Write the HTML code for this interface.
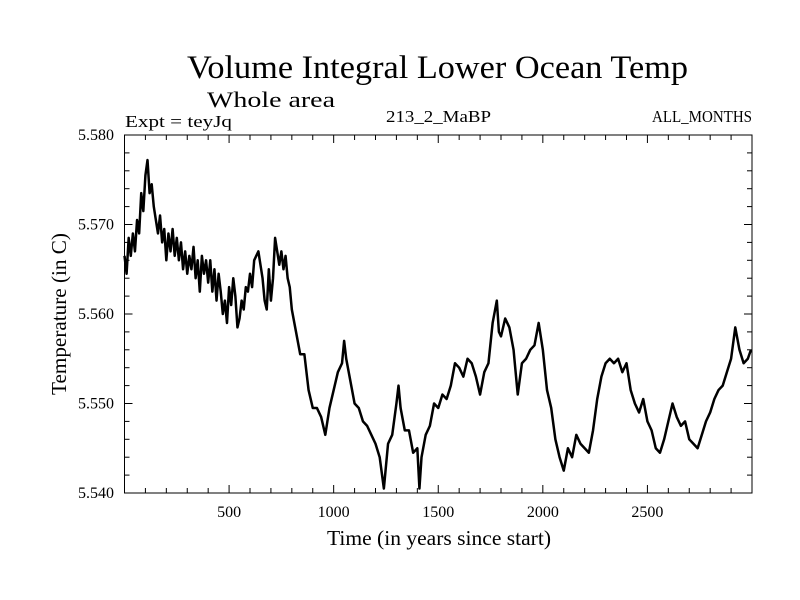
<!DOCTYPE html>
<html><head><meta charset="utf-8"><style>
html,body{margin:0;padding:0;background:#fff;}
svg{display:block;font-family:"Liberation Serif",serif;}
</style></head><body>
<svg id="chart" width="800" height="600" viewBox="0 0 800 600" xmlns="http://www.w3.org/2000/svg">
<rect x="0" y="0" width="800" height="600" fill="#fff"/>
<text x="187" y="78" font-size="33" textLength="501" lengthAdjust="spacingAndGlyphs">Volume Integral Lower Ocean Temp</text>
<text x="207" y="107" font-size="22" textLength="128" lengthAdjust="spacingAndGlyphs">Whole area</text>
<text x="125" y="127" font-size="17" textLength="107" lengthAdjust="spacingAndGlyphs">Expt = teyJq</text>
<text x="386" y="122" font-size="17" textLength="105" lengthAdjust="spacingAndGlyphs">213_2_MaBP</text>
<text x="652" y="122" font-size="17" textLength="100" lengthAdjust="spacingAndGlyphs">ALL_MONTHS</text>
<text x="327" y="545" font-size="21" textLength="224" lengthAdjust="spacingAndGlyphs">Time (in years since start)</text>
<text transform="translate(66,395) rotate(-90)" font-size="21" textLength="162" lengthAdjust="spacingAndGlyphs">Temperature (in C)</text>
<g id="ticks"></g>
<g id="labels"></g>
<path id="series" fill="none" stroke="#000" stroke-width="2.5" stroke-linejoin="round"/>
<rect x="124.5" y="135" width="627.5" height="358" fill="none" stroke="#000" stroke-width="1"/>
</svg>
<script>
const xTicks = [500, 1000, 1500, 2000, 2500];
const xTickLabels = ["500", "1000", "1500", "2000", "2500"];
const yTicks = [5.540, 5.550, 5.560, 5.570, 5.580];
const yTickLabels = ["5.540", "5.550", "5.560", "5.570", "5.580"];
const years = [
0,10,20,30,40,50,60,70,80,90,100,110,120,130,140,150,160,170,180,190,
200,210,220,230,240,250,260,270,280,290,300,310,320,330,340,350,360,370,380,390,
400,410,420,430,440,450,460,470,480,490,500,510,520,530,540,550,560,570,580,590,
600,610,620,630,640,650,660,670,680,690,700,710,720,730,740,750,760,770,780,790,
800,820,840,860,880,900,920,940,960,980,1000,1020,1040,1050,1060,1080,1100,1120,1140,1160,
1180,1200,1220,1240,1260,1280,1300,1310,1320,1340,1360,1380,1400,1410,1420,1440,1460,1480,1500,1520,
1540,1560,1580,1600,1620,1640,1660,1680,1700,1720,1740,1760,1780,1790,1800,1820,1840,1860,1880,1900,
1920,1940,1960,1980,2000,2020,2040,2060,2080,2100,2120,2140,2160,2180,2200,2220,2240,2260,2280,2300,
2320,2340,2360,2380,2400,2420,2440,2460,2480,2500,2520,2540,2560,2580,2600,2620,2640,2660,2680,2700,
2720,2740,2760,2780,2800,2820,2840,2860,2880,2900,2920,2940,2960,2980,2995];
const temps = [
5.5665,5.5645,5.5685,5.5665,5.5690,5.5670,5.5705,5.5690,5.5735,5.5715,5.5755,5.5772,5.5735,5.5745,5.5720,5.5705,5.5690,5.5710,5.5680,5.5695,
5.5660,5.5690,5.5670,5.5695,5.5665,5.5685,5.5660,5.5680,5.5650,5.5670,5.5645,5.5665,5.5650,5.5675,5.5640,5.5660,5.5625,5.5665,5.5645,5.5660,
5.5635,5.5660,5.5625,5.5650,5.5615,5.5645,5.5625,5.5600,5.5615,5.5590,5.5630,5.5610,5.5640,5.5620,5.5585,5.5595,5.5615,5.5605,5.5630,5.5625,
5.5645,5.5630,5.5660,5.5665,5.5670,5.5655,5.5640,5.5615,5.5605,5.5650,5.5615,5.5640,5.5685,5.5670,5.5655,5.5670,5.5650,5.5665,5.5640,5.5630,
5.5605,5.5580,5.5555,5.5555,5.5515,5.5495,5.5495,5.5485,5.5465,5.5495,5.5515,5.5535,5.5545,5.5570,5.5550,5.5525,5.5500,5.5495,5.5480,5.5475,
5.5465,5.5455,5.5440,5.5405,5.5455,5.5465,5.5500,5.5520,5.5495,5.5470,5.5470,5.5445,5.5450,5.5405,5.5440,5.5465,5.5475,5.5500,5.5495,5.5510,
5.5505,5.5520,5.5545,5.5540,5.5530,5.5550,5.5545,5.5530,5.5510,5.5535,5.5545,5.5590,5.5615,5.5580,5.5575,5.5595,5.5585,5.5560,5.5510,5.5545,
5.5550,5.5560,5.5565,5.5590,5.5560,5.5515,5.5495,5.5460,5.5440,5.5425,5.5450,5.5440,5.5465,5.5455,5.5450,5.5445,5.5470,5.5505,5.5530,5.5545,
5.5550,5.5545,5.5550,5.5535,5.5545,5.5515,5.5500,5.5490,5.5505,5.5480,5.5470,5.5450,5.5445,5.5460,5.5480,5.5500,5.5485,5.5475,5.5480,5.5460,
5.5455,5.5450,5.5465,5.5480,5.5490,5.5505,5.5515,5.5520,5.5535,5.5550,5.5585,5.5560,5.5545,5.5550,5.5560];
const X0 = 124.5, X1 = 752, XMIN = 0, XMAX = 3000;
const Y0 = 493, Y1 = 135, YMIN = 5.540, YMAX = 5.580;
function xs(v){ return X0 + (v - XMIN) / (XMAX - XMIN) * (X1 - X0); }
function ys(v){ return Y0 - (v - YMIN) / (YMAX - YMIN) * (Y0 - Y1); }
const NS = "http://www.w3.org/2000/svg";
const tg = document.getElementById('ticks');
const lg = document.getElementById('labels');
function line(x1,y1,x2,y2,name){
  const l = document.createElementNS(NS,'line');
  l.setAttribute('x1',x1);l.setAttribute('y1',y1);l.setAttribute('x2',x2);l.setAttribute('y2',y2);
  l.setAttribute('stroke','#000');l.setAttribute('stroke-width','1');
  
  
  tg.appendChild(l);
}
for (let v = 100; v < XMAX; v += 100) {
  const major = v % 500 === 0;
  const L = major ? 8 : 5;
  const x = xs(v);
  line(x, Y0, x, Y0 - L, 'x-tick');
  line(x, Y1, x, Y1 + L, 'x-tick-top');
}
for (let k = 1; k < 20; k++) {
  const v = YMIN + k * 0.002;
  const major = k % 5 === 0;
  const L = major ? 8 : 5;
  const y = ys(v);
  line(X0, y, X0 + L, y, 'y-tick');
  line(X1, y, X1 - L, y, 'y-tick-right');
}
xTicks.forEach((v,i)=>{
  const t = document.createElementNS(NS,'text');
  t.setAttribute('x', xs(v)); t.setAttribute('y', 517);
  t.setAttribute('text-anchor','middle'); t.setAttribute('font-size','16');
  t.setAttribute('font-family','"Liberation Serif", serif');
  
  
  t.textContent = xTickLabels[i];
  lg.appendChild(t);
});
yTicks.forEach((v,i)=>{
  const t = document.createElementNS(NS,'text');
  t.setAttribute('x', 114); t.setAttribute('y', ys(v) + 5);
  t.setAttribute('text-anchor','end'); t.setAttribute('font-size','16');
  t.setAttribute('font-family','"Liberation Serif", serif');
  
  
  t.textContent = yTickLabels[i];
  lg.appendChild(t);
});
const n = Math.min(years.length, temps.length);
let d = '';
for (let i = 0; i < n; i++) {
  d += (i ? 'L' : 'M') + xs(years[i]).toFixed(2) + ',' + ys(temps[i]).toFixed(2);
}
document.getElementById('series').setAttribute('d', d);
</script>
</body></html>
